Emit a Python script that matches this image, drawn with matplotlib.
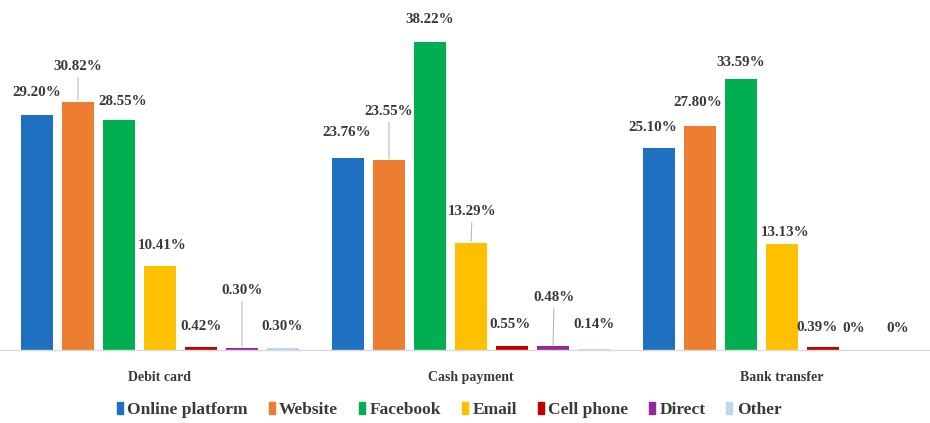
import matplotlib.pyplot as plt
from matplotlib.patches import Rectangle

# payment methods on the x axis, channels as the bars inside each group
methods = ["Debit card", "Cash payment", "Bank transfer"]
channels = ["Online platform", "Website", "Facebook", "Email", "Cell phone", "Direct", "Other"]
colors = ["#1F70C1", "#ED7D31", "#00B050", "#FFC000", "#C00000", "#93279B", "#BDD7EE"]

debit_card = [29.20, 30.82, 28.55, 10.41, 0.42, 0.30, 0.30]
cash_payment = [23.76, 23.55, 38.22, 13.29, 0.55, 0.48, 0.14]
bank_transfer = [25.10, 27.80, 33.59, 13.13, 0.39, 0, 0]
values = [debit_card, cash_payment, bank_transfer]

# label offsets from each bar top in pixels (dx, dy) and whether a leader line is drawn
label_pos = [
    [(0, 22), (0, 35), (4, 18), (2, 21), (0, 20), (0, 57), (-1, 21)],
    [(-1, 26), (0, 49), (0, 22), (1, 31), (-2, 21), (1, 49), (0, 24)],
    [(-6, 20), (-2, 23), (0, 17), (3, 12), (-6, 19), (-10, 22), (-7, 22)],
]
leaders = [
    [False, True, False, False, False, True, False],
    [False, True, False, True, False, True, False],
    [False, False, False, False, False, False, False],
]

plt.rcParams["font.family"] = ["Liberation Serif", "DejaVu Serif"]
plt.rcParams["font.weight"] = "bold"
txt_color = "#3A3A3A"

fig = plt.figure(figsize=(9.3, 4.23), dpi=100)
ax = fig.add_axes([0, 1 - 350 / 423, 1, 350 / 423])

step = 41 / 311
width = 32 / 311
for g, vals in enumerate(values):
    for i, v in enumerate(vals):
        x = g + (i - 3) * step
        ax.bar(x, v, width=width, color=colors[i], edgecolor="none", zorder=2)
        dx, dy = label_pos[g][i]
        label = "0%" if v == 0 else "%.2f%%" % v
        if leaders[g][i]:
            ax.annotate(label, xy=(x, v), xytext=(dx, dy), textcoords="offset pixels",
                        ha="center", va="center", fontsize=10.8, color=txt_color,
                        arrowprops=dict(arrowstyle="-", color="#B0B0B0", lw=0.7,
                                        shrinkA=1, shrinkB=1, relpos=(0.5, 0)))
        else:
            ax.annotate(label, xy=(x, v), xytext=(dx, dy), textcoords="offset pixels",
                        ha="center", va="center", fontsize=10.8, color=txt_color)

ax.set_xlim(-160 / 311, 770 / 311)
ax.set_ylim(0, 350 / 8.06)
ax.set_yticks([])
ax.set_xticks(range(len(methods)))
ax.set_xticklabels(methods, fontsize=10, color=txt_color)
ax.tick_params(axis="x", length=0, pad=15)
for s in ["top", "left", "right"]:
    ax.spines[s].set_visible(False)
ax.spines["bottom"].set_color("#D9D9D9")
ax.spines["bottom"].set_linewidth(1)

handles = [Rectangle((0, 0), 1, 1, color=c) for c in colors]
fig.legend(handles, channels, loc="center", bbox_to_anchor=(0.483, 1 - 410 / 423),
           ncol=7, frameon=False, fontsize=12.5, handlelength=0.35, handleheight=0.7,
           handletextpad=0.25, columnspacing=1.2, labelcolor=txt_color)

fig.savefig("out.png", dpi=100)
